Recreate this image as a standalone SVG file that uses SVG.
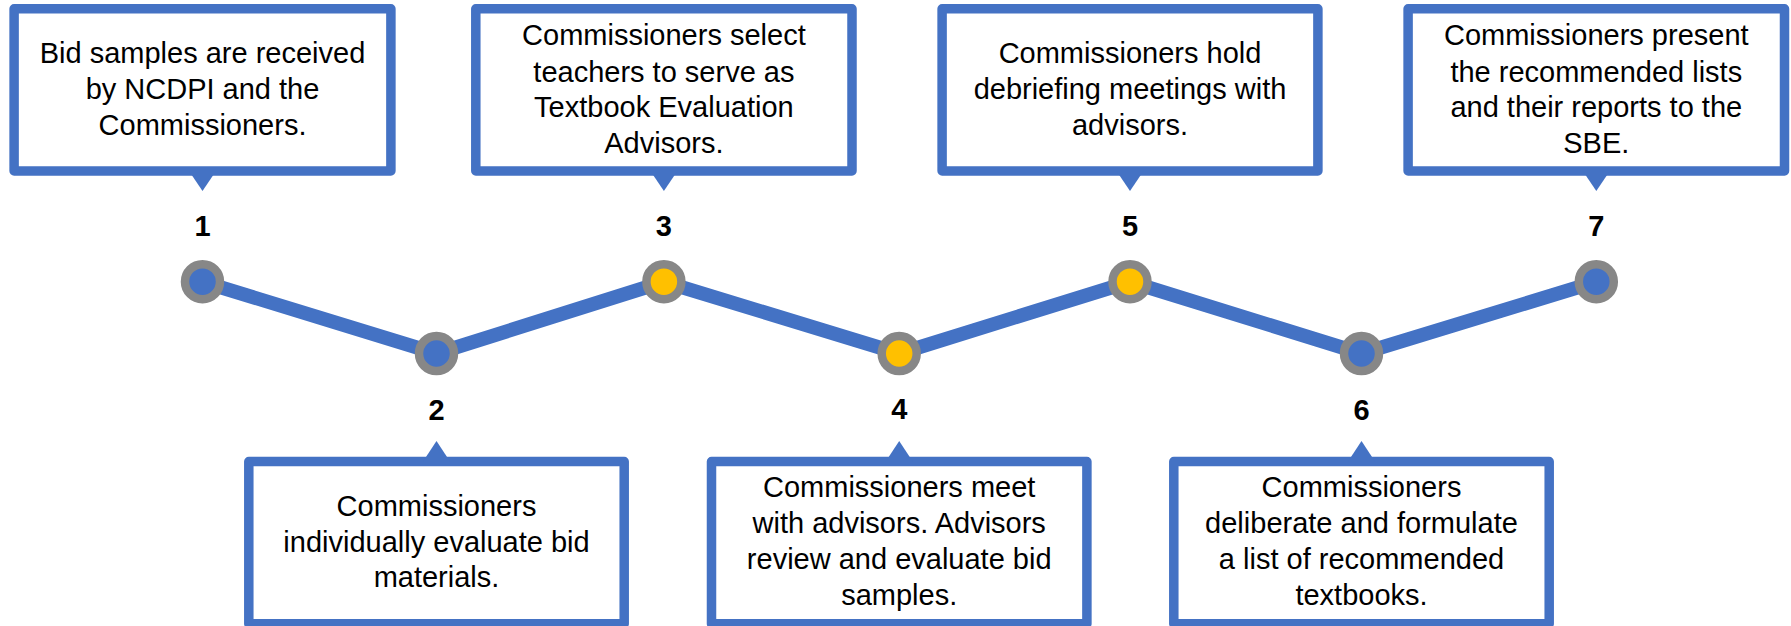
<svg xmlns="http://www.w3.org/2000/svg" width="1791" height="626" viewBox="0 0 1791 626">
<style>
.box{fill:#fff;stroke:#4472C4;stroke-width:9.5;stroke-linejoin:round}
.ptr{fill:#4472C4}
.t{font-family:"Liberation Sans",Arial,sans-serif;font-size:29px;fill:#000;text-anchor:middle}
.n{font-family:"Liberation Sans",Arial,sans-serif;font-size:29px;font-weight:bold;fill:#000;text-anchor:middle}
.dot{stroke:#878787;stroke-width:8.5}
.b{fill:#4472C4}
.y{fill:#FFC000}
</style>
<rect width="1791" height="626" fill="#fff"/>
<g id="connectors">
<polyline points="202.5,281.7 436.5,353.5 663.9,281.7 899.2,353.5 1130,281.7 1361.5,353.5 1596.3,281.7" fill="none" stroke="#4472C4" stroke-width="14" stroke-linejoin="round"/>
</g>
<g id="step1">
<rect class="box" x="14.1" y="8.8" width="376.8" height="162.2"/>
<polygon class="ptr" points="189,171 216,171 202.5,191"/>
<text class="t" x="202.5" y="63">Bid samples are received</text>
<text class="t" x="202.5" y="99.3">by NCDPI and the</text>
<text class="t" x="202.5" y="135">Commissioners.</text>
<text class="n" x="202.5" y="235.7">1</text>
<circle class="dot b" cx="202.5" cy="281.7" r="17.5"/>
</g>
<g id="step2">
<rect class="box" x="248.8" y="461.5" width="375.4" height="162.2"/>
<polygon class="ptr" points="423,461.5 450,461.5 436.5,441"/>
<text class="t" x="436.5" y="515.7">Commissioners</text>
<text class="t" x="436.5" y="551.7">individually evaluate bid</text>
<text class="t" x="436.5" y="587.3">materials.</text>
<text class="n" x="436.5" y="420">2</text>
<circle class="dot b" cx="436.5" cy="353.5" r="17.5"/>
</g>
<g id="step3">
<rect class="box" x="475.8" y="8.8" width="376.2" height="162.2"/>
<polygon class="ptr" points="650.4,171 677.4,171 663.9,191"/>
<text class="t" x="663.9" y="45">Commissioners select</text>
<text class="t" x="663.9" y="81.7">teachers to serve as</text>
<text class="t" x="663.9" y="117.3">Textbook Evaluation</text>
<text class="t" x="663.9" y="153.3">Advisors.</text>
<text class="n" x="663.9" y="235.7">3</text>
<circle class="dot y" cx="663.9" cy="281.7" r="17.5"/>
</g>
<g id="step4">
<rect class="box" x="711.5" y="461.5" width="375.4" height="162.2"/>
<polygon class="ptr" points="885.7,461.5 912.7,461.5 899.2,441"/>
<text class="t" x="899.2" y="497.3">Commissioners meet</text>
<text class="t" x="899.2" y="533.3">with advisors. Advisors</text>
<text class="t" x="899.2" y="569.3">review and evaluate bid</text>
<text class="t" x="899.2" y="605">samples.</text>
<text class="n" x="899.2" y="419">4</text>
<circle class="dot y" cx="899.2" cy="353.5" r="17.5"/>
</g>
<g id="step5">
<rect class="box" x="942.1" y="8.8" width="375.8" height="162.2"/>
<polygon class="ptr" points="1116.5,171 1143.5,171 1130,191"/>
<text class="t" x="1130" y="63">Commissioners hold</text>
<text class="t" x="1130" y="99.3">debriefing meetings with</text>
<text class="t" x="1130" y="135">advisors.</text>
<text class="n" x="1130" y="235.7">5</text>
<circle class="dot y" cx="1130" cy="281.7" r="17.5"/>
</g>
<g id="step6">
<rect class="box" x="1173.8" y="461.5" width="375.4" height="162.2"/>
<polygon class="ptr" points="1348,461.5 1375,461.5 1361.5,441"/>
<text class="t" x="1361.5" y="497.3">Commissioners</text>
<text class="t" x="1361.5" y="533.3">deliberate and formulate</text>
<text class="t" x="1361.5" y="569.3">a list of recommended</text>
<text class="t" x="1361.5" y="605">textbooks.</text>
<text class="n" x="1361.5" y="420">6</text>
<circle class="dot b" cx="1361.5" cy="353.5" r="17.5"/>
</g>
<g id="step7">
<rect class="box" x="1408.1" y="8.8" width="376.4" height="162.2"/>
<polygon class="ptr" points="1582.8,171 1609.8,171 1596.3,191"/>
<text class="t" x="1596.3" y="45">Commissioners present</text>
<text class="t" x="1596.3" y="81.7">the recommended lists</text>
<text class="t" x="1596.3" y="117.3">and their reports to the</text>
<text class="t" x="1596.3" y="153.3">SBE.</text>
<text class="n" x="1596.3" y="235.7">7</text>
<circle class="dot b" cx="1596.3" cy="281.7" r="17.5"/>
</g>
</svg>
